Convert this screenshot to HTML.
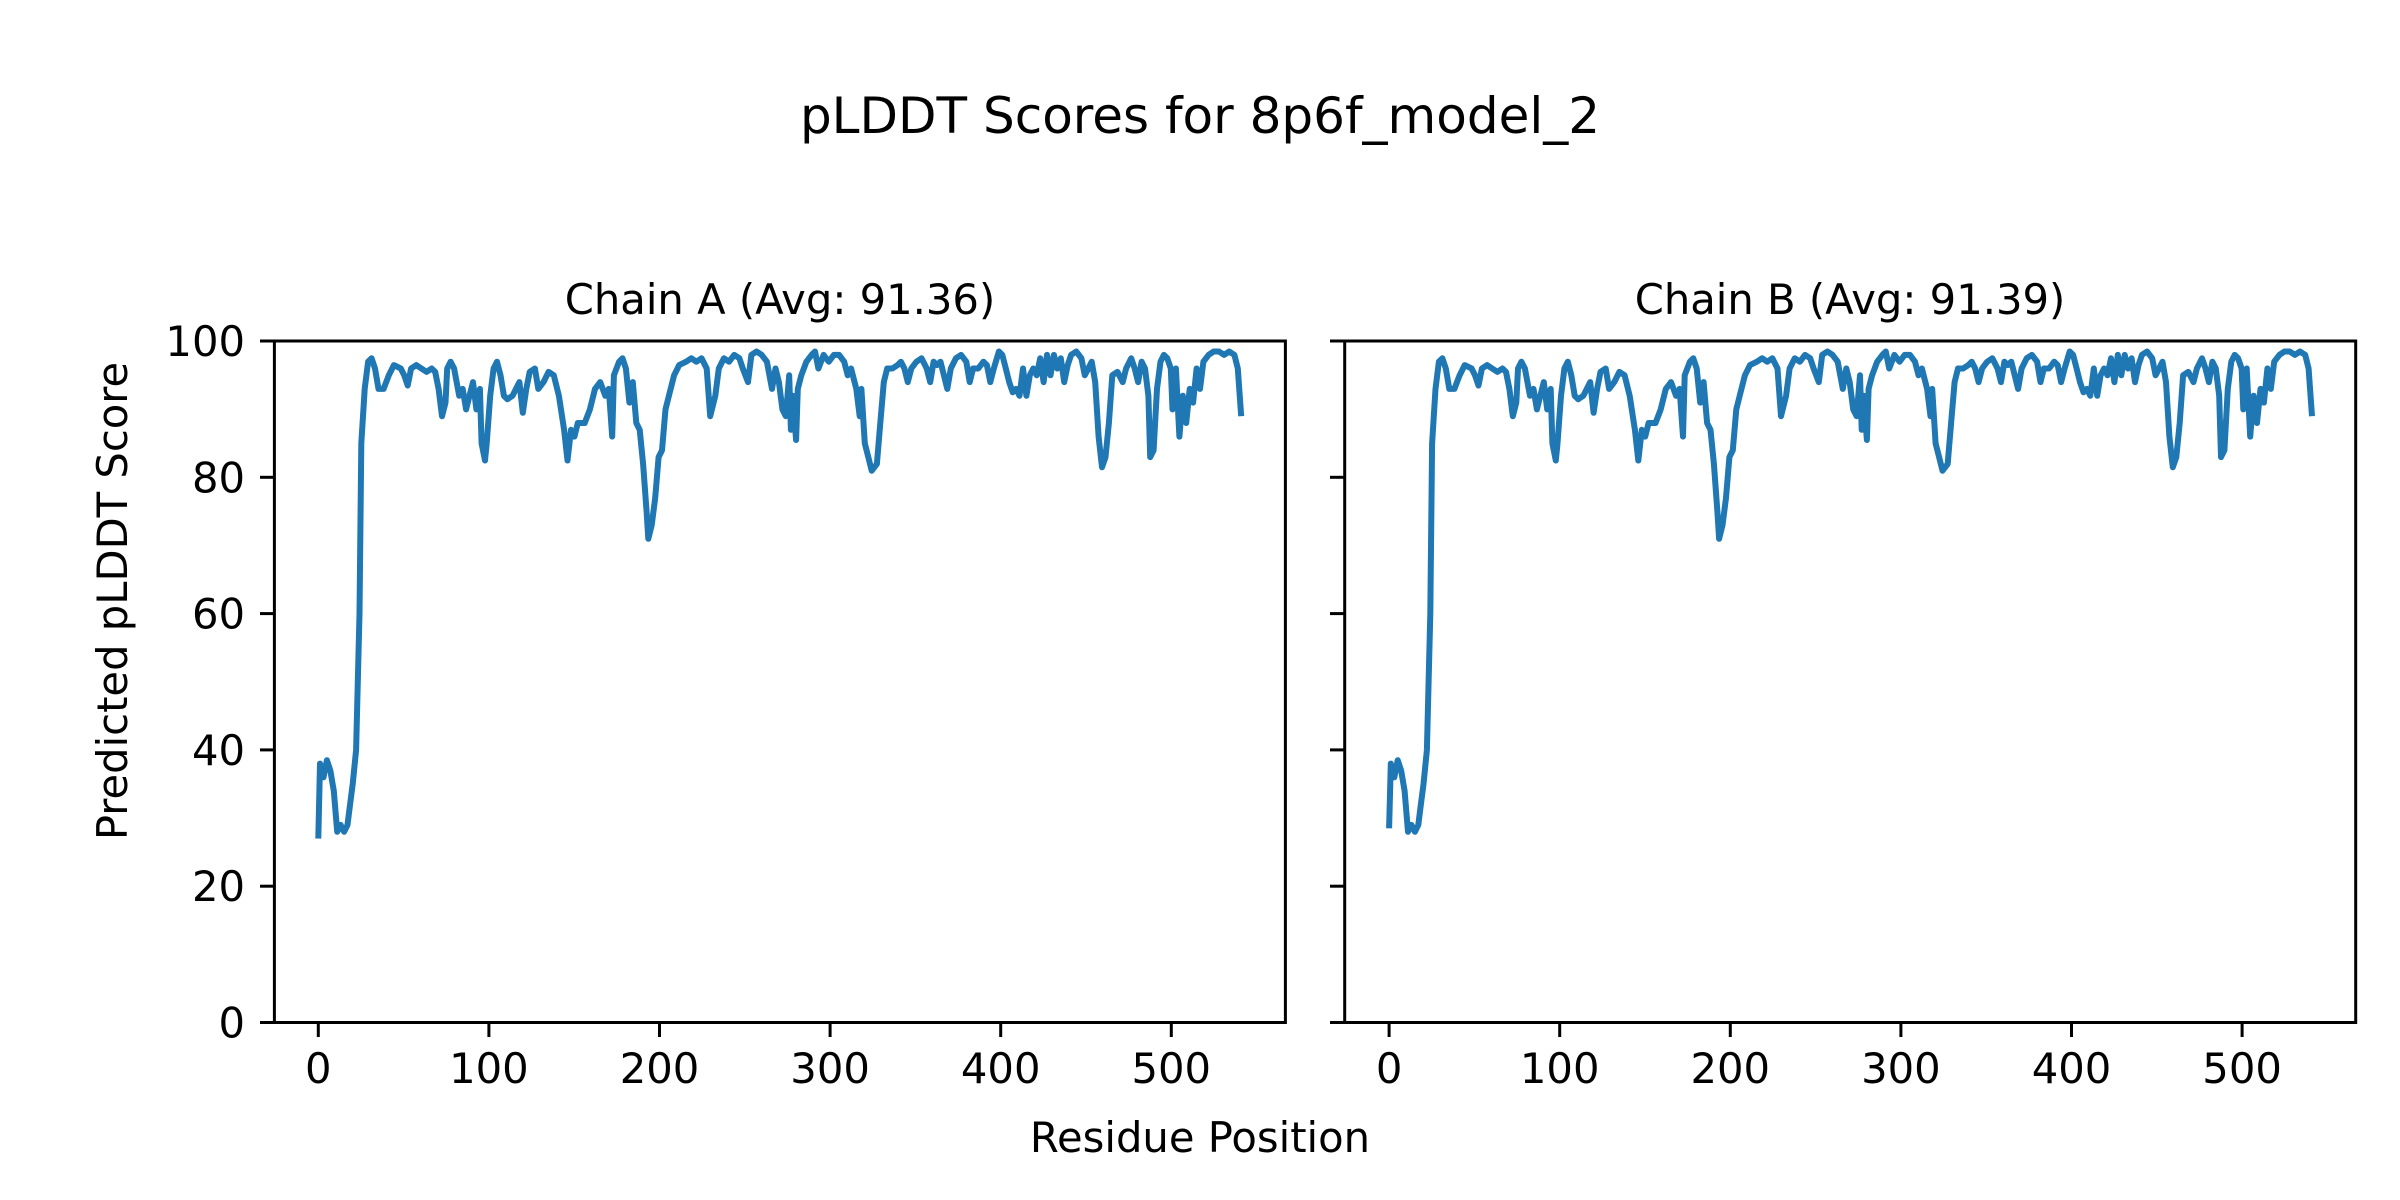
<!DOCTYPE html>
<html><head><meta charset="utf-8"><style>
html,body{margin:0;padding:0;background:#fff}
svg{display:block}
text{font-family:"DejaVu Sans","Liberation Sans",sans-serif;fill:#000}
</style></head><body>
<svg id="s" width="2400" height="1200" viewBox="0 0 2400 1200" xmlns="http://www.w3.org/2000/svg">
<rect width="2400" height="1200" fill="#fff"/>
<text x="1200" y="133" font-size="50" text-anchor="middle">pLDDT Scores for 8p6f_model_2</text>
<text x="780" y="314" font-size="41.7" text-anchor="middle">Chain A (Avg: 91.36)</text>
<text x="1850" y="314" font-size="41.7" text-anchor="middle">Chain B (Avg: 91.39)</text>
<text x="1200" y="1152" font-size="41.7" text-anchor="middle">Residue Position</text>
<text transform="translate(127,601) rotate(-90)" font-size="41.7" text-anchor="middle">Predicted pLDDT Score</text>

<polyline id="lA" fill="none" stroke="#1f77b4" stroke-width="6" stroke-linejoin="round" points=""/>
<polyline id="lB" fill="none" stroke="#1f77b4" stroke-width="6" stroke-linejoin="round" points=""/>

<g>
<rect x="274.4" y="341" width="1011" height="681.5" fill="none" stroke="#000" stroke-width="3"/>
<g stroke="#000" stroke-width="3">
<line x1="318.3" y1="1022.5" x2="318.3" y2="1037"/><line x1="488.9" y1="1022.5" x2="488.9" y2="1037"/>
<line x1="659.5" y1="1022.5" x2="659.5" y2="1037"/><line x1="830.1" y1="1022.5" x2="830.1" y2="1037"/>
<line x1="1000.7" y1="1022.5" x2="1000.7" y2="1037"/><line x1="1171.3" y1="1022.5" x2="1171.3" y2="1037"/>
<line x1="260" y1="341" x2="274.4" y2="341"/><line x1="260" y1="477.3" x2="274.4" y2="477.3"/>
<line x1="260" y1="613.6" x2="274.4" y2="613.6"/><line x1="260" y1="749.9" x2="274.4" y2="749.9"/>
<line x1="260" y1="886.2" x2="274.4" y2="886.2"/><line x1="260" y1="1022.5" x2="274.4" y2="1022.5"/>
</g>
<g font-size="41.7" text-anchor="middle">
<text x="318.3" y="1083">0</text><text x="488.9" y="1083">100</text><text x="659.5" y="1083">200</text>
<text x="830.1" y="1083">300</text><text x="1000.7" y="1083">400</text><text x="1171.3" y="1083">500</text>
</g>
<g font-size="41.7" text-anchor="end">
<text x="245" y="356">100</text><text x="245" y="492.3">80</text><text x="245" y="628.6">60</text>
<text x="245" y="764.9">40</text><text x="245" y="901.2">20</text><text x="245" y="1037.5">0</text>
</g>
</g>

<g>
<rect x="1344.7" y="341" width="1011" height="681.5" fill="none" stroke="#000" stroke-width="3"/>
<g stroke="#000" stroke-width="3">
<line x1="1389.1" y1="1022.5" x2="1389.1" y2="1037"/><line x1="1559.7" y1="1022.5" x2="1559.7" y2="1037"/>
<line x1="1730.3" y1="1022.5" x2="1730.3" y2="1037"/><line x1="1900.9" y1="1022.5" x2="1900.9" y2="1037"/>
<line x1="2071.5" y1="1022.5" x2="2071.5" y2="1037"/><line x1="2242.1" y1="1022.5" x2="2242.1" y2="1037"/>
<line x1="1330" y1="341" x2="1344.7" y2="341"/><line x1="1330" y1="477.3" x2="1344.7" y2="477.3"/>
<line x1="1330" y1="613.6" x2="1344.7" y2="613.6"/><line x1="1330" y1="749.9" x2="1344.7" y2="749.9"/>
<line x1="1330" y1="886.2" x2="1344.7" y2="886.2"/><line x1="1330" y1="1022.5" x2="1344.7" y2="1022.5"/>
</g>
<g font-size="41.7" text-anchor="middle">
<text x="1389.1" y="1083">0</text><text x="1559.7" y="1083">100</text><text x="1730.3" y="1083">200</text>
<text x="1900.9" y="1083">300</text><text x="2071.5" y="1083">400</text><text x="2242.1" y="1083">500</text>
</g>
</g>
</svg>
<script>
var d="0,27 1,38 3,36 5,38.5 7,37 9,34 11,28 13,29 15,28 17,29 18,31 20,35 22,40 24,60 25,85 27,93 29,97 31,97.5 33,96 35,93 38,93 41,95 44,96.5 48,96 50,95 52,93.5 54,96 57,96.5 60,96 63,95.5 66,96 68,95.5 70,93 72,89 74,91 75,96 77,97 79,96 82,92 84,93 86,90 88,92 90,94 92,90 94,93 95,85 97,82.5 98,85 100,92 102,96 104,97 106,95 108,92 110,91.5 113,92 115,93 117,94 119,89.5 121,93 123,95.5 126,96 128,93 131,94 134,95.5 137,95 140,92 143,87 145,82.5 147,87 149,86 151,88 155,88 158,90 161,93 164,94 167,92 169,93 171,86 172,95 175,97 177,97.5 179,96 181,91 183,94 185,88 187,87 189,82 191,75 192,71 194,73 196,77 198,83 200,84 202,90 204,92 207,95 210,96.5 214,97 217,97.5 220,97 223,97.5 226,96 228,89 231,92 233,96 236,97.5 239,97 242,98 245,97.5 247,96 250,94 252,98 255,98.5 258,98 261,97 264,93 266,96 268,94 270,90 272,89 274,95 275,87 276,92 278,85.5 279,93 281,95 284,97 287,98 289,98.5 291,96 294,98 297,97 300,98 303,98 306,97 308,95 310,96 313,93 315,89 316,93 318,85 320,83 322,81 325,82 327,88 329,94 331,96 334,96 337,96.5 339,97 341,96 343,94 345,96 348,97 351,97.5 354,96 356,94 358,97 360,96.5 362,97 364,95 366,93 368,96 371,97.5 374,98 377,97 379,94 381,96 384,96 387,97 389,96.5 391,94 393,96 396,98.5 398,98 400,96 402,94 404,92.5 406,93 408,92 410,96 412,92 414,95 416,96 418,95 420,97.5 422,94 424,98 426,95 428,98 430,96 432,97.5 434,94 436,96.5 438,98 441,98.5 444,97.5 446,95 448,96 450,97 452,94 454,86 456,81.5 458,83 460,88 462,95 465,95.5 468,94 470,96 473,97.5 475,96 477,94 479,97 481,96 483,92 484,83 486,84 488,93 490,97 492,98 494,97.5 496,96 497,90 499,96 501,86 503,92 505,88 507,93 509,91 511,96 513,93 515,97 518,98 521,98.5 524,98.5 527,98 530,98.5 533,98 535,96 537,89";
var pts=d.split(" ").map(function(p){var a=p.split(",");return [+a[0],+a[1]];});
var k=541/537;
function mk(x0,first){return pts.map(function(p,i){var s=(i==0&&first!=null)?first:p[1];return (x0+1.706*p[0]*k).toFixed(1)+","+(1022.5-6.8125*s).toFixed(1);}).join(" ");}
document.getElementById("lA").setAttribute("points",mk(318.3,null));
document.getElementById("lB").setAttribute("points",mk(1389.1,28.5));
</script>
</body></html>
